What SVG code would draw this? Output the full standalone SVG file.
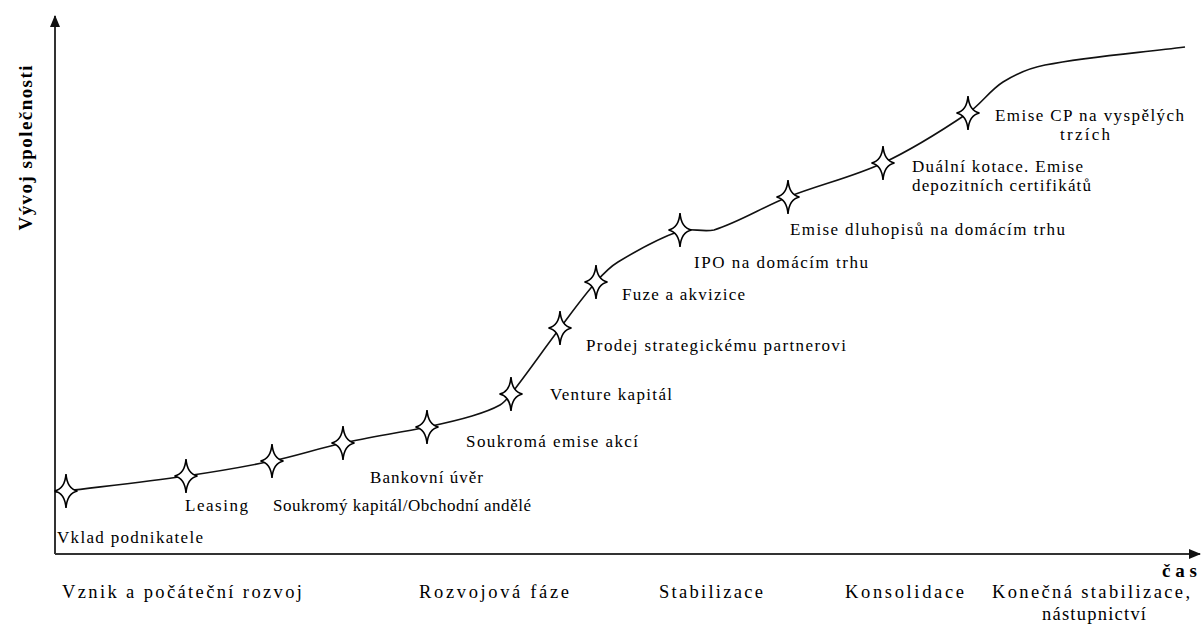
<svg xmlns="http://www.w3.org/2000/svg" xmlns:xlink="http://www.w3.org/1999/xlink" width="1201" height="626" viewBox="0 0 1201 626">
<style>
  .lbl { font-family: "Liberation Serif", "Times New Roman", serif; font-size: 17px; fill: #000; }
  .phase { font-family: "Liberation Serif", "Times New Roman", serif; font-size: 18.5px; fill: #000; }
  .axt { font-family: "Liberation Serif", "Times New Roman", serif; font-size: 19px; font-weight: bold; fill: #000; }
  .axis { stroke: #333; stroke-width: 2; fill: none; }
  .curve { stroke: #111; stroke-width: 1.6; fill: none; }
  .star { fill: #fff; stroke: #000; stroke-width: 1.6; }
</style>
<defs>
  <marker id="arr" markerWidth="12" markerHeight="10" refX="11" refY="5" orient="auto" markerUnits="userSpaceOnUse">
    <path d="M0,0 L12,5 L0,10 Z" fill="#111"/>
  </marker>
  <path id="star" class="star" d="M0,-17 Q1.2,-2 11.5,0 Q1.2,2 0,17 Q-1.2,2 -11.5,0 Q-1.2,-2 0,-17 Z"/>
</defs>
<rect width="1201" height="626" fill="#fff"/>

<g id="axes">
  <line class="axis" x1="55" y1="554" x2="55" y2="16" marker-end="url(#arr)"/>
  <line class="axis" x1="55" y1="554" x2="1200" y2="554" marker-end="url(#arr)"/>
  <text class="axt" transform="translate(32,148) rotate(-90)" text-anchor="middle" textLength="165" lengthAdjust="spacing">Vývoj společnosti</text>
  <text class="axt" x="1162" y="577" font-size="18" textLength="35" lengthAdjust="spacing">čas</text>
</g>

<g id="connectors">
  <path class="curve" d="M55,492 C58.7,491.7 62.3,491.4 66,491 C106,486.1 146.1,481.8 186,476 C214.8,471.8 243.5,467 272,461 C295.9,456 319.2,448.2 343,443 C370.8,436.9 399.1,432.8 427,427 C442.1,423.8 457.2,420.5 472,416 C481.6,413.1 491.3,409.9 500,405 C504.5,402.4 507.8,398.1 511,394 C527.9,372.4 543.4,349.8 560,328 C571.8,312.5 583.1,296.6 596,282 C602.5,274.6 609.5,267.1 618,262 C637.8,250 658.1,238.3 680,231 C690.7,227.4 701.2,232.4 714,230 C739.8,221.9 762.9,207 788,197 C819.2,184.6 852.6,177.2 883,163 C912.8,149.1 940.7,131.4 968,113 C980.9,104.3 989.8,90.3 1003,82 C1015.8,74 1030.2,67.9 1045,65 C1091.3,56.1 1138.3,53 1185,47"/>
</g>

<g id="n1"><use xlink:href="#star" x="66" y="491"/><text class="lbl" x="57" y="543" textLength="146" lengthAdjust="spacing">Vklad podnikatele</text></g>
<g id="n2"><use xlink:href="#star" x="186" y="476"/><text class="lbl" x="185" y="511" textLength="63" lengthAdjust="spacing">Leasing</text></g>
<g id="n3"><use xlink:href="#star" x="272" y="461"/><text class="lbl" x="273" y="511" textLength="258" lengthAdjust="spacing">Soukromý kapitál/Obchodní andělé</text></g>
<g id="n4"><use xlink:href="#star" x="343" y="443"/><text class="lbl" x="370" y="483" textLength="113" lengthAdjust="spacing">Bankovní úvěr</text></g>
<g id="n5"><use xlink:href="#star" x="427" y="427"/><text class="lbl" x="466" y="447" textLength="172" lengthAdjust="spacing">Soukromá emise akcí</text></g>
<g id="n6"><use xlink:href="#star" x="511" y="394"/><text class="lbl" x="550" y="400" textLength="122" lengthAdjust="spacing">Venture kapitál</text></g>
<g id="n7"><use xlink:href="#star" x="560" y="328"/><text class="lbl" x="586" y="351" textLength="260" lengthAdjust="spacing">Prodej strategickému partnerovi</text></g>
<g id="n8"><use xlink:href="#star" x="596" y="282"/><text class="lbl" x="622" y="300" textLength="123" lengthAdjust="spacing">Fuze a akvizice</text></g>
<g id="n9"><use xlink:href="#star" x="680" y="230"/><text class="lbl" x="694" y="268" textLength="174" lengthAdjust="spacing">IPO na domácím trhu</text></g>
<g id="n10"><use xlink:href="#star" x="788" y="197"/><text class="lbl" x="790" y="235" textLength="275" lengthAdjust="spacing">Emise dluhopisů na domácím trhu</text></g>
<g id="n11"><use xlink:href="#star" x="883" y="163"/><text class="lbl" x="912" y="172" textLength="171" lengthAdjust="spacing">Duální kotace. Emise</text><text class="lbl" x="912" y="191" textLength="179" lengthAdjust="spacing">depozitních certifikátů</text></g>
<g id="n12"><use xlink:href="#star" x="968" y="113"/><text class="lbl" x="995" y="121" textLength="189" lengthAdjust="spacing">Emise CP na vyspělých</text><text class="lbl" x="1060" y="140" textLength="50" lengthAdjust="spacing">trzích</text></g>

<g id="phases">
  <text class="phase" x="62" y="598" textLength="240" lengthAdjust="spacing">Vznik a počáteční rozvoj</text>
  <text class="phase" x="419" y="598" textLength="150" lengthAdjust="spacing">Rozvojová fáze</text>
  <text class="phase" x="659" y="598" textLength="104" lengthAdjust="spacing">Stabilizace</text>
  <text class="phase" x="845" y="598" textLength="119" lengthAdjust="spacing">Konsolidace</text>
  <text class="phase" x="992" y="598" textLength="198" lengthAdjust="spacing">Konečná stabilizace,</text>
  <text class="phase" x="1094" y="620" text-anchor="middle" textLength="104" lengthAdjust="spacing">nástupnictví</text>
</g>
</svg>
